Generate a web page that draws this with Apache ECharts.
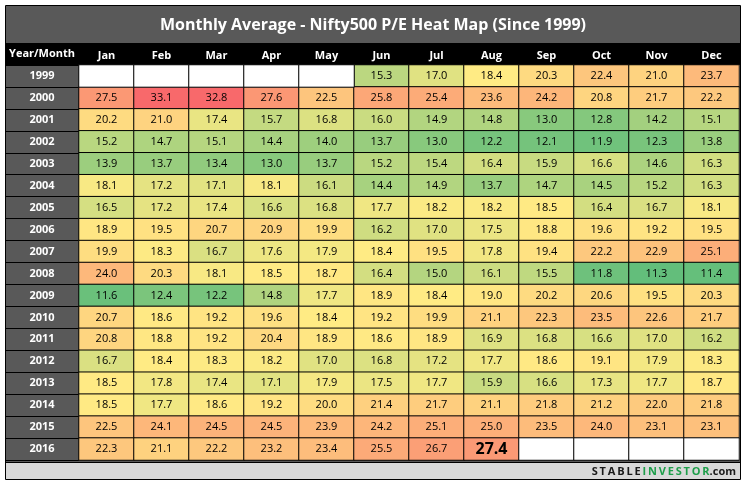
<!DOCTYPE html>
<html>
<head>
    <meta charset="utf-8">
    <title>Nifty500 P/E Heat Map</title>
    <script type="text/javascript" src="https://cdn.jsdelivr.net/npm/echarts@6/dist/echarts.min.js"></script>
    <style>
        html, body { margin: 0; padding: 0; background: #fff; }
        #main { width: 747px; height: 484px; }
    </style>
</head>
<body>
<div id="main"></div>
<script type="text/javascript">
    var months = ['Jan', 'Feb', 'Mar', 'Apr', 'May', 'Jun', 'Jul', 'Aug', 'Sep', 'Oct', 'Nov', 'Dec'];
    var years = ['1999', '2000', '2001', '2002', '2003', '2004', '2005', '2006', '2007',
        '2008', '2009', '2010', '2011', '2012', '2013', '2014', '2015', '2016'];

    // monthly average P/E, '-' = no data
    var pe1999 = ['-', '-', '-', '-', '-', 15.3, 17.0, 18.4, 20.3, 22.4, 21.0, 23.7];
    var pe2000 = [27.5, 33.1, 32.8, 27.6, 22.5, 25.8, 25.4, 23.6, 24.2, 20.8, 21.7, 22.2];
    var pe2001 = [20.2, 21.0, 17.4, 15.7, 16.8, 16.0, 14.9, 14.8, 13.0, 12.8, 14.2, 15.1];
    var pe2002 = [15.2, 14.7, 15.1, 14.4, 14.0, 13.7, 13.0, 12.2, 12.1, 11.9, 12.3, 13.8];
    var pe2003 = [13.9, 13.7, 13.4, 13.0, 13.7, 15.2, 15.4, 16.4, 15.9, 16.6, 14.6, 16.3];
    var pe2004 = [18.1, 17.2, 17.1, 18.1, 16.1, 14.4, 14.9, 13.7, 14.7, 14.5, 15.2, 16.3];
    var pe2005 = [16.5, 17.2, 17.4, 16.6, 16.8, 17.7, 18.2, 18.2, 18.5, 16.4, 16.7, 18.1];
    var pe2006 = [18.9, 19.5, 20.7, 20.9, 19.9, 16.2, 17.0, 17.5, 18.8, 19.6, 19.2, 19.5];
    var pe2007 = [19.9, 18.3, 16.7, 17.6, 17.9, 18.4, 19.5, 17.8, 19.4, 22.2, 22.9, 25.1];
    var pe2008 = [24.0, 20.3, 18.1, 18.5, 18.7, 16.4, 15.0, 16.1, 15.5, 11.8, 11.3, 11.4];
    var pe2009 = [11.6, 12.4, 12.2, 14.8, 17.7, 18.9, 18.4, 19.0, 20.2, 20.6, 19.5, 20.3];
    var pe2010 = [20.7, 18.6, 19.2, 19.6, 18.4, 19.2, 19.9, 21.1, 22.3, 23.5, 22.6, 21.7];
    var pe2011 = [20.8, 18.8, 19.2, 20.4, 18.9, 18.6, 18.9, 16.9, 16.8, 16.6, 17.0, 16.2];
    var pe2012 = [16.7, 18.4, 18.3, 18.2, 17.0, 16.8, 17.2, 17.7, 18.6, 19.1, 17.9, 18.3];
    var pe2013 = [18.5, 17.8, 17.4, 17.1, 17.9, 17.5, 17.7, 15.9, 16.6, 17.3, 17.7, 18.7];
    var pe2014 = [18.5, 17.7, 18.6, 19.2, 20.0, 21.4, 21.7, 21.1, 21.8, 21.2, 22.0, 21.8];
    var pe2015 = [22.5, 24.1, 24.5, 24.5, 23.9, 24.2, 25.1, 25.0, 23.5, 24.0, 23.1, 23.1];
    var pe2016 = [22.3, 21.1, 22.2, 23.2, 23.4, 25.5, 26.7, 27.4, '-', '-', '-', '-'];

    var rows = [pe1999, pe2000, pe2001, pe2002, pe2003, pe2004, pe2005, pe2006, pe2007,
        pe2008, pe2009, pe2010, pe2011, pe2012, pe2013, pe2014, pe2015, pe2016];

    // latest month shown in bold
    var latest = ['Aug', '2016'];

    var cells = [];
    var blanks = [];
    rows.forEach(function (row, y) {
        row.forEach(function (v, x) {
            if (v === '-') {
                blanks.push([x, y, 0]);
            } else if (months[x] === latest[0] && years[y] === latest[1]) {
                cells.push({ value: [x, y, v], label: { fontSize: 16, fontWeight: 'bold' } });
            } else {
                cells.push([x, y, v]);
            }
        });
    });

    var myChart = echarts.init(document.getElementById('main'));

    var font = 'Open Sans';
    var option = {
        animation: false,
        backgroundColor: '#fff',
        grid: { left: 79, right: 8, top: 65, bottom: 24 },
        xAxis: {
            type: 'category',
            data: months,
            position: 'top',
            axisLine: { show: false },
            axisTick: { show: false },
            splitLine: { show: false },
            axisLabel: { color: '#fff', fontWeight: 'bold', fontSize: 11, fontFamily: font, margin: 4 }
        },
        yAxis: {
            type: 'category',
            data: years,
            inverse: true,
            axisLine: { show: false },
            axisTick: { show: true, length: 73, lineStyle: { color: '#000', width: 1 } },
            splitLine: { show: false },
            axisLabel: { color: '#fff', fontWeight: 'bold', fontSize: 11, fontFamily: font, align: 'center', margin: 37 }
        },
        visualMap: {
            show: false,
            type: 'continuous',
            seriesIndex: 0,
            dimension: 2,
            min: 11.3,
            max: 32.6,
            inRange: { color: ['#63BE7B', '#FFEB84', '#FCAA78', '#F8696B'] }
        },
        series: [{
            type: 'heatmap',
            data: cells,
            itemStyle: { borderColor: '#000', borderWidth: 1 },
            label: {
                show: true,
                color: '#000',
                fontSize: 11,
                fontFamily: font,
                formatter: function (p) { return p.value[2].toFixed(1); }
            },
            emphasis: { disabled: true }
        }, {
            type: 'heatmap',
            data: blanks,
            itemStyle: { color: '#fff', borderColor: '#000', borderWidth: 1 },
            label: { show: false },
            emphasis: { disabled: true }
        }],
        graphic: [
            { type: 'rect', z: -10, shape: { x: 6, y: 6, width: 734, height: 37 }, style: { fill: '#595959' } },
            { type: 'rect', z: -10, shape: { x: 6, y: 43, width: 734, height: 22 }, style: { fill: '#000' } },
            { type: 'rect', z: -10, shape: { x: 6, y: 65, width: 73, height: 395 }, style: { fill: '#595959' } },
            { type: 'rect', z: -10, shape: { x: 6, y: 460, width: 734, height: 3 }, style: { fill: '#595959' } },
            { type: 'rect', z: -10, shape: { x: 6, y: 463, width: 734, height: 16 }, style: { fill: '#D9D9D9' } },
            { type: 'line', z: 50, shape: { x1: 6, y1: 462.5, x2: 740, y2: 462.5 }, style: { stroke: '#000', lineWidth: 1 } },
            { type: 'rect', z: 50, shape: { x: 5.5, y: 5.5, width: 735, height: 474 }, style: { fill: null, stroke: '#000', lineWidth: 1 } },
            {
                type: 'text', z: 60, x: 373, y: 25,
                style: {
                    text: 'Monthly Average - Nifty500 P/E Heat Map (Since 1999)',
                    fill: '#fff', font: 'bold 16px "Open Sans"', align: 'center', verticalAlign: 'middle'
                }
            },
            {
                type: 'text', z: 60, x: 42, y: 54,
                style: { text: 'Year/Month', fill: '#fff', font: 'bold 11px "Open Sans"', align: 'center', verticalAlign: 'middle' }
            },
            {
                type: 'text', z: 60, x: 736, y: 472,
                style: {
                    text: '{a|S\u2009T\u2009A\u2009B\u2009L\u2009E\u2009}{b|I\u2009N\u2009V\u2009E\u2009S\u2009T\u2009O\u2009R}{c|.com}',
                    align: 'right', verticalAlign: 'middle',
                    rich: {
                        a: { fill: '#1a1a1a', font: 'bold 11px "Open Sans"' },
                        b: { fill: '#1E9E4A', font: 'bold 11px "Open Sans"' },
                        c: { fill: '#1a1a1a', font: 'bold 11px "Open Sans"' }
                    }
                }
            }
        ]
    };

    myChart.setOption(option);
</script>
</body>
</html>
